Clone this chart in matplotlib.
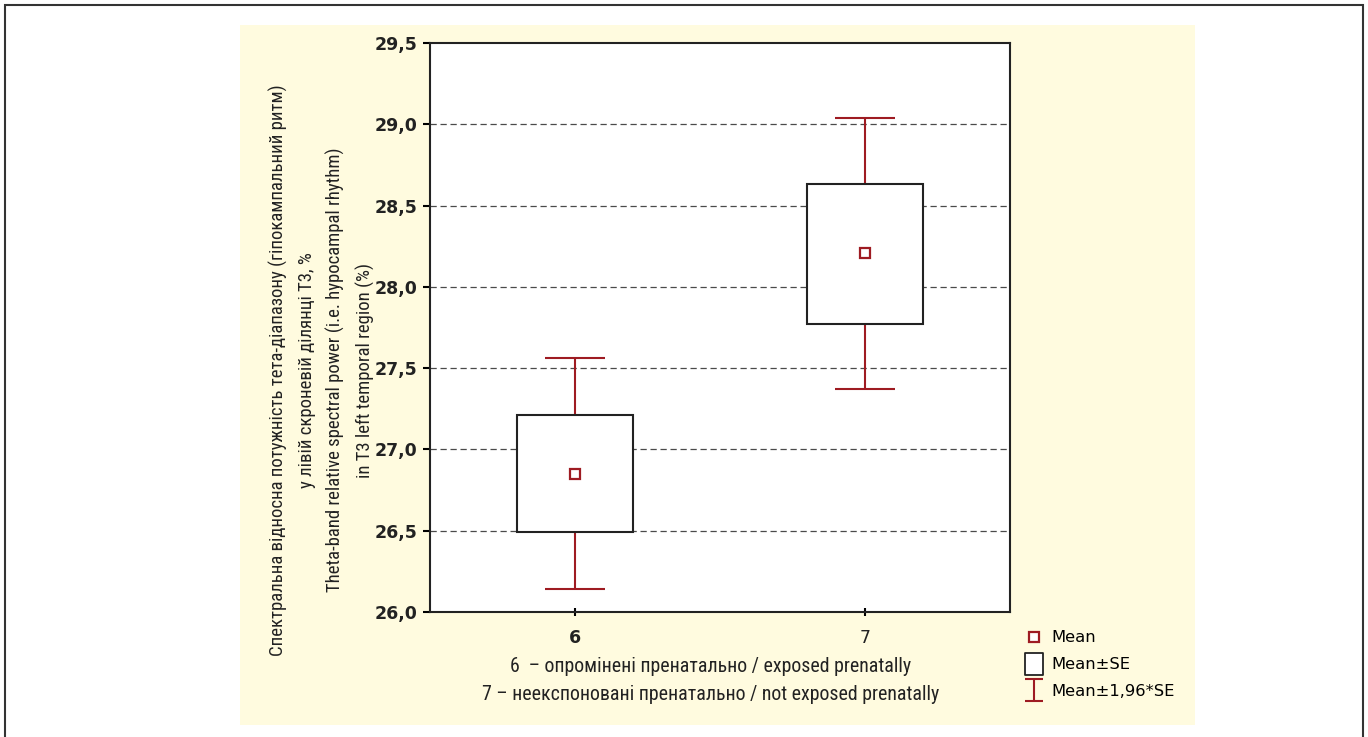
import matplotlib
matplotlib.use("Agg")
import matplotlib.pyplot as plt
from matplotlib.lines import Line2D
from matplotlib.patches import Rectangle
from matplotlib.path import Path
from matplotlib import font_manager as fm

# ---- data ----
groups = [6, 7]
group_labels = ["6", "7"]
means = [26.85, 28.21]
se_low = [26.49, 27.77]
se_high = [27.21, 28.63]
ci_low = [26.14, 27.37]
ci_high = [27.56, 29.04]
y_ticks = [26.0, 26.5, 27.0, 27.5, 28.0, 28.5, 29.0, 29.5]
y_tick_labels = ["26,0", "26,5", "27,0", "27,5", "28,0", "28,5", "29,0", "29,5"]
legend_labels = ["Mean", "Mean±SE", "Mean±1,96*SE"]
ylabel_lines = [
    "Спектральна відносна потужність тета-діапазону (гіпокампальний ритм)",
    "у лівій скроневій ділянці Т3, %",
    "Theta-band relative spectral power (i.e. hypocampal rhythm)",
    "in T3 left temporal region (%)",
]
caption_lines = [
    "6  – опромінені пренатально / exposed prenatally",
    "7 – неекспоновані пренатально / not exposed prenatally",
]

RED = "#9e1b22"
BEIGE = "#fffbdf"
TXT = "#222222"


def pick_narrow_font():
    prefs = ["Liberation Sans Narrow", "Roboto Condensed", "Open Sans Condensed",
             "Noto Sans Condensed", "DejaVu Sans Condensed", "Noto Sans SemiCondensed"]
    cands = []
    for f in fm.fontManager.ttflist:
        name = f.name
        fname = f.fname.lower()
        narrowish = ("narrow" in name.lower() or "condensed" in name.lower()
                     or "condensed" in fname or "narrow" in fname
                     or str(f.stretch) in ("condensed", "semi-condensed", "extra-condensed"))
        if not narrowish:
            continue
        if f.style != "normal":
            continue
        if f.weight not in (400, "normal", "regular", "book"):
            continue
        if "mono" in name.lower() or "serif" in name.lower() and "sans" not in name.lower():
            continue
        score = 100
        for i, p in enumerate(prefs):
            if name == p or p.lower().replace(" ", "") in fname.replace("-", "").replace("_", ""):
                score = i
                break
        if "extra" in fname or "ultra" in fname:
            score += 20
        cands.append((score, f.fname))
    if cands:
        cands.sort()
        return fm.FontProperties(fname=cands[0][1])
    return fm.FontProperties(family="DejaVu Sans")


W, H = 1368, 737
fig = plt.figure(figsize=(W / 100, H / 100), dpi=100)
fig.patch.set_facecolor("white")
renderer = fig.canvas.get_renderer()

narrow = pick_narrow_font()


def fitted_props(text, target_px):
    p = narrow.copy()
    p.set_size(10)
    t = fig.text(0, 0, text, fontproperties=p)
    w = t.get_window_extent(renderer=renderer).width
    t.remove()
    p.set_size(10 * target_px / w)
    return p


# outer frame and beige panel
fig.patches.append(Rectangle((5 / W, -0.05), (1363 - 5) / W, (H - 5) / H + 0.05,
                             transform=fig.transFigure, fill=False,
                             edgecolor="#333333", linewidth=1.5, zorder=-10))
fig.patches.append(Rectangle((240 / W, (H - 725) / H), (1195 - 240) / W, (725 - 25) / H,
                             transform=fig.transFigure, facecolor=BEIGE,
                             edgecolor="none", zorder=-10))

ax = fig.add_axes([430 / W, (H - 612) / H, 580 / W, 569 / H])
ax.set_zorder(2)
ax.set_facecolor("white")
ax.set_xlim(5.5, 7.5)
ax.set_ylim(26.0, 29.5)

# grid
for yv in y_ticks[1:-1]:
    ax.axhline(yv, color="#4a4a4a", linewidth=0.9, dashes=(5, 3), zorder=1)

# whiskers and caps
box_w = 0.4
cap_w = 0.21
ax.vlines(groups, ci_low, se_low, color=RED, linewidth=1.5, zorder=2)
ax.vlines(groups, se_high, ci_high, color=RED, linewidth=1.5, zorder=2)
ax.hlines(ci_low, [g - cap_w / 2 for g in groups], [g + cap_w / 2 for g in groups],
          color=RED, linewidth=1.5, zorder=2)
ax.hlines(ci_high, [g - cap_w / 2 for g in groups], [g + cap_w / 2 for g in groups],
          color=RED, linewidth=1.5, zorder=2)

# boxes
ax.bar(groups, [h - l for h, l in zip(se_high, se_low)], bottom=se_low, width=box_w,
       facecolor="white", edgecolor=TXT, linewidth=1.5, zorder=3)

# means
ax.plot(groups, means, linestyle="none", marker="s", markersize=6.5,
        markerfacecolor="white", markeredgecolor=RED, markeredgewidth=1.6, zorder=4)

# axes styling
for sp in ax.spines.values():
    sp.set_linewidth(1.5)
    sp.set_color(TXT)
ax.set_yticks(y_ticks)
ax.set_yticklabels(y_tick_labels, fontfamily="DejaVu Sans", fontweight="bold",
                   fontsize=12.5, color=TXT)
ax.tick_params(axis="y", direction="out", length=5, width=1.5, pad=4)
ax.set_xticks(groups)
ax.set_xticklabels(group_labels, fontfamily="DejaVu Sans", fontsize=12.5, color=TXT)
ax.get_xticklabels()[0].set_fontweight("bold")
ax.tick_params(axis="x", direction="inout", length=6, width=1.5, pad=9)

# y label (four lines)
ylab_props = fitted_props(ylabel_lines[0], 572)
fig.text(322 / W, (H - 370) / H, "\n".join(ylabel_lines), rotation=90,
         ha="center", va="center", multialignment="center",
         fontproperties=ylab_props, color=TXT, linespacing=1.68)

# caption
cap_props = fitted_props(caption_lines[1], 455)
fig.text(711 / W, (H - 667) / H, caption_lines[0], ha="center", va="center",
         fontproperties=cap_props, color=TXT)
fig.text(711 / W, (H - 694) / H, caption_lines[1], ha="center", va="center",
         fontproperties=cap_props, color=TXT)

# legend
ibeam = Path([(-0.41, -0.5), (0.41, -0.5), (0, -0.5), (0, 0.5), (-0.41, 0.5), (0.41, 0.5)],
             [Path.MOVETO, Path.LINETO, Path.MOVETO, Path.LINETO, Path.MOVETO, Path.LINETO])
tallbox = Path([(-0.41, -0.5), (0.41, -0.5), (0.41, 0.5), (-0.41, 0.5), (-0.41, -0.5)],
               [Path.MOVETO, Path.LINETO, Path.LINETO, Path.LINETO, Path.CLOSEPOLY])
handles = [
    Line2D([], [], linestyle="none", marker="s", markersize=6.5, markerfacecolor="white",
           markeredgecolor=RED, markeredgewidth=1.6),
    Line2D([], [], linestyle="none", marker=tallbox, markersize=16, markerfacecolor="white",
           markeredgecolor=TXT, markeredgewidth=1.3),
    Line2D([], [], linestyle="none", marker=ibeam, markersize=16.5, markerfacecolor="none",
           markeredgecolor=RED, markeredgewidth=1.5),
]
fig.legend(handles, legend_labels, loc="upper left",
           bbox_to_anchor=(1012 / W, (H - 619) / H), frameon=False,
           prop={"family": "DejaVu Sans", "size": 11.8},
           handlelength=1.3, handletextpad=0.4, labelspacing=0.72, borderpad=0.2)

fig.savefig("out.png", dpi=100, facecolor="white")
